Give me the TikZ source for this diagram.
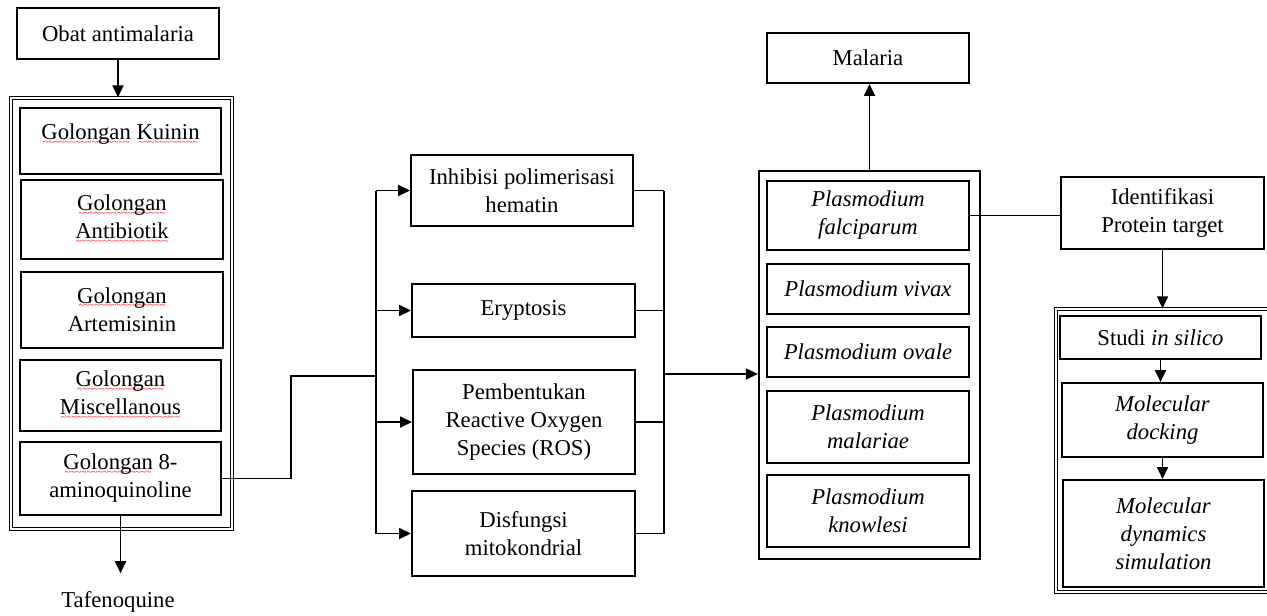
\documentclass[tikz,border=0pt]{standalone}
\usepackage{fontspec}
\setmainfont{Liberation Serif}
\usetikzlibrary{arrows.meta}

% red spell-check wave under a word
\newsavebox{\typobox}
\newcommand{\typo}[1]{\sbox{\typobox}{#1}%
    \rlap{\textcolor{red}{\raisebox{-2.8pt}{\hbox to \wd\typobox{\fontsize{5}{5}\selectfont\cleaders\hbox{\char`\~}\hfill}}}}#1}

\begin{document}
\begin{tikzpicture}[x=0.5pt, y=-0.5pt,
    txt/.style={font=\fontsize{11.35}{14}\selectfont},
    box/.style={txt, draw, line width=1pt, align=center, inner sep=0pt},
    frame/.style={draw, line width=0.6pt, double, double distance=1pt, inner sep=0pt},
    link/.style={line width=0.9pt},
    arr/.style={-{Triangle[length=6pt,width=5.5pt]}}]
    \useasboundingbox (0,0) rectangle (1267,615);

    % Obat antimalaria
    \node[box, minimum width=101pt, minimum height=25.5pt] (obat) at (118,33.5) {Obat antimalaria};
    \node[frame, minimum width=110.5pt, minimum height=215.5pt] (golframe) at (121.5,313.5) {};
    \node[box, minimum width=100.5pt, minimum height=33pt] (kuinin) at (120.5,141) {\typo{Golongan} \typo{Kuinin}\\[-5pt] \mbox{}};
    \node[box, minimum width=101pt, minimum height=39.5pt] (antibiotik) at (122,219.5) {\typo{Golongan}\\ \typo{Antibiotik}};
    \node[box, minimum width=101pt, minimum height=38pt] (artemisinin) at (122,309.5) {\typo{Golongan}\\ Artemisinin};
    \node[box, minimum width=100.5pt, minimum height=35.5pt] (misc) at (120.5,395.5) {\typo{Golongan}\\ \typo{Miscellanous}};
    \node[box, minimum width=100.5pt, minimum height=36.5pt] (amino) at (120.5,478.5) {\typo{Golongan} 8-\\ aminoquinoline};
    \node[txt, inner xsep=0pt, inner ysep=9pt] (tafeno) at (118,602) {Tafenoquine};

    \draw[link, arr] (obat.south) -- (obat.south |- golframe.north);
    \draw[link, arr] (amino.south) -- (amino.south |- tafeno.north);

    % Mekanisme
    \node[box, minimum width=111pt, minimum height=35.5pt] (inhibisi) at (522,190.5) {Inhibisi polimerisasi\\ hematin};
    \node[box, minimum width=111.5pt, minimum height=26.5pt] (eryptosis) at (523.5,310.5) {Eryptosis};
    \node[box, minimum width=111pt, minimum height=52pt] (ros) at (524,422) {Pembentukan\\ Reactive Oxygen\\ Species (ROS)};
    \node[box, minimum width=111.5pt, minimum height=42.5pt] (disfungsi) at (523.5,533.5) {Disfungsi\\ mitokondrial};

    \coordinate (elbow) at (291,376);
    \coordinate (busL) at (376,376);
    \coordinate (busR) at (664,374);
    \draw[link] (amino.east) -| (elbow) -- (busL);
    \draw[link] (busL |- inhibisi.west) -- (busL |- disfungsi.west);
    \draw[link] (busR |- inhibisi.east) -- (busR |- disfungsi.east);
    \foreach \n in {inhibisi, eryptosis, ros, disfungsi} {
        \draw[link, arr] (busL |- \n.west) -- (\n.west);
        \draw[link] (\n.east) -- (busR |- \n.east);
    }

    % Plasmodium
    \node[box, minimum width=101pt, minimum height=25pt] (malaria) at (868,58) {Malaria};
    \node[draw, line width=1.1pt, inner sep=0pt, minimum width=110.5pt, minimum height=194pt] (plasframe) at (869.5,365) {};
    \node[box, minimum width=101pt, minimum height=34.5pt] (falciparum) at (868,215.5) {\textit{Plasmodium}\\ \textit{falciparum}};
    \node[box, minimum width=101pt, minimum height=25pt] (vivax) at (868,289) {\textit{Plasmodium vivax}};
    \node[box, minimum width=101pt, minimum height=25pt] (ovale) at (868,352) {\textit{Plasmodium ovale}};
    \node[box, minimum width=101pt, minimum height=36pt] (malariae) at (868,427) {\textit{Plasmodium}\\ \textit{malariae}};
    \node[box, minimum width=101pt, minimum height=36pt] (knowlesi) at (868,511) {\textit{Plasmodium}\\ \textit{knowlesi}};

    \draw[link, arr] (busR) -- (busR -| plasframe.west);
    \draw[link, arr] (plasframe.north) -- (plasframe.north |- malaria.south);

    % Studi in silico
    \node[box, minimum width=101.5pt, minimum height=36pt] (identifikasi) at (1162.5,213) {Identifikasi\\ Protein target};
    \node[frame, minimum width=106.5pt, minimum height=141.5pt] (silframe) at (1162.5,450.5) {};
    \node[box, minimum width=100.5pt, minimum height=21.5pt] (studi) at (1160.5,337.5) {Studi \textit{in silico}};
    \node[box, minimum width=100.5pt, minimum height=37pt] (docking) at (1162.5,420) {\textit{Molecular}\\ \textit{docking}};
    \node[box, minimum width=100.5pt, minimum height=53.5pt] (simulation) at (1163.5,533.5) {\textit{Molecular}\\ \textit{dynamics}\\ \textit{simulation}};

    \draw[link] (falciparum.east) -- (falciparum.east -| identifikasi.west);
    \draw[link, arr] (identifikasi.south) -- (identifikasi.south |- silframe.north);
    \draw[link, arr] (studi.south) -- (studi.south |- docking.north);
    \draw[link, arr] (docking.south) -- (docking.south |- simulation.north);
\end{tikzpicture}
\end{document}
